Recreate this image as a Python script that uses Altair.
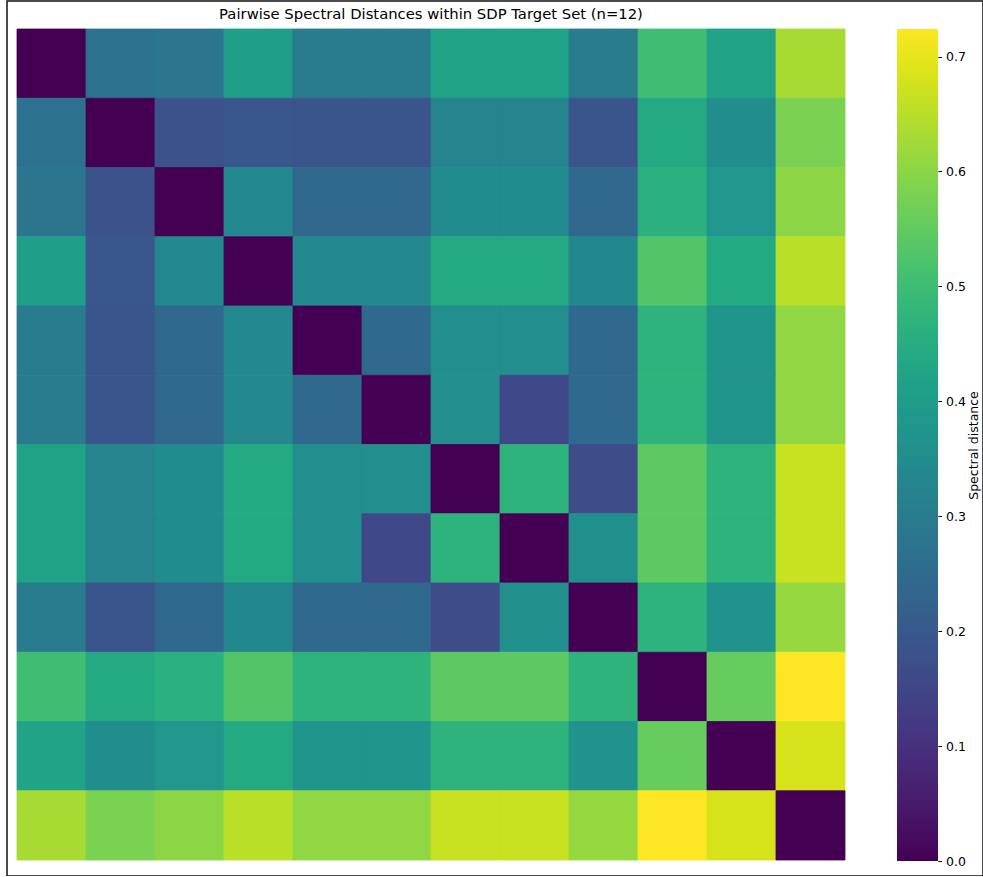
import altair as alt
import pandas as pd

# Pairwise spectral distances between the 12 targets (symmetric, zero diagonal)
row_00 = [0.000, 0.270, 0.285, 0.405, 0.300, 0.300, 0.415, 0.415, 0.300, 0.500, 0.420, 0.630]
row_01 = [0.270, 0.000, 0.180, 0.195, 0.190, 0.190, 0.325, 0.325, 0.190, 0.440, 0.350, 0.580]
row_02 = [0.285, 0.180, 0.000, 0.340, 0.240, 0.240, 0.345, 0.345, 0.240, 0.460, 0.380, 0.600]
row_03 = [0.405, 0.195, 0.340, 0.000, 0.340, 0.340, 0.440, 0.440, 0.335, 0.530, 0.440, 0.650]
row_04 = [0.300, 0.190, 0.240, 0.340, 0.000, 0.245, 0.355, 0.355, 0.245, 0.470, 0.375, 0.605]
row_05 = [0.300, 0.190, 0.240, 0.340, 0.245, 0.000, 0.355, 0.155, 0.245, 0.470, 0.375, 0.605]
row_06 = [0.415, 0.325, 0.345, 0.440, 0.355, 0.355, 0.000, 0.470, 0.165, 0.545, 0.470, 0.665]
row_07 = [0.415, 0.325, 0.345, 0.440, 0.355, 0.155, 0.470, 0.000, 0.360, 0.545, 0.470, 0.665]
row_08 = [0.300, 0.190, 0.240, 0.335, 0.245, 0.245, 0.165, 0.360, 0.000, 0.470, 0.370, 0.610]
row_09 = [0.500, 0.440, 0.460, 0.530, 0.470, 0.470, 0.545, 0.545, 0.470, 0.000, 0.555, 0.724]
row_10 = [0.420, 0.350, 0.380, 0.440, 0.375, 0.375, 0.470, 0.470, 0.370, 0.555, 0.000, 0.680]
row_11 = [0.630, 0.580, 0.600, 0.650, 0.605, 0.605, 0.665, 0.665, 0.610, 0.724, 0.680, 0.000]

rows = [row_00, row_01, row_02, row_03, row_04, row_05,
        row_06, row_07, row_08, row_09, row_10, row_11]

# Colour bar tick labels
bar_ticks = [0.0, 0.1, 0.2, 0.3, 0.4, 0.5, 0.6, 0.7]

heat_df = pd.DataFrame(
    [{"row": i, "col": j, "distance": v}
     for i, r in enumerate(rows) for j, v in enumerate(r)]
)
vmax = float(heat_df["distance"].max())

FONT = "DejaVu Sans"
color_scale = alt.Scale(scheme="viridis", domain=[0, vmax])

# Cells are stroked in their own colour so no hairline seams show between them
heatmap = alt.Chart(heat_df).mark_rect(strokeWidth=0.8).encode(
    x=alt.X("col:O", axis=None,
            scale=alt.Scale(range=[10, 838], paddingInner=0, paddingOuter=0)),
    y=alt.Y("row:O", axis=None,
            scale=alt.Scale(range=[28, 859], paddingInner=0, paddingOuter=0)),
    color=alt.Color("distance:Q", scale=color_scale, legend=None),
    stroke=alt.Stroke("distance:Q", scale=color_scale, legend=None),
)

# Continuous colour bar: thin slices across the colour domain
step = vmax / 400
colorbar = (
    alt.Chart(alt.sequence(0, vmax, step, as_="distance"))
    .transform_calculate(
        top=f"min(datum.distance + {step * 1.6}, {vmax})",
        left="0",
        right="1",
    )
    .mark_rect()
    .encode(
        x=alt.X("left:Q", axis=None,
                scale=alt.Scale(domain=[0, 1], range=[890, 931])),
        x2="right:Q",
        y=alt.Y(
            "distance:Q",
            scale=alt.Scale(domain=[0, vmax], range=[860, 28], nice=False, zero=False),
            axis=alt.Axis(
                orient="right",
                offset=-45,
                values=bar_ticks,
                format=".1f",
                title="Spectral distance",
                titleAngle=270,
                titleFont=FONT,
                titleFontSize=12.5,
                titleFontWeight="normal",
                titleColor="black",
                titlePadding=15,
                labelFont=FONT,
                labelFontSize=12.5,
                labelColor="black",
                labelPadding=4,
                tickSize=3.5,
                tickColor="black",
                domain=False,
                grid=False,
            ),
        ),
        y2="top:Q",
        color=alt.Color("distance:Q", scale=color_scale, legend=None),
    )
)

chart = (
    alt.layer(heatmap, colorbar)
    .resolve_scale(x="independent", y="independent")
    .properties(
        width=976,
        height=875,
        autosize=alt.AutoSizeParams(type="none"),
        padding={"left": 7, "top": 1, "right": 0, "bottom": 0},
        view=alt.ViewBackground(stroke="#111111", strokeWidth=1.5, fill="white"),
        title=alt.TitleParams(
            text="Pairwise Spectral Distances within SDP Target Set (n=12)",
            font=FONT,
            fontSize=14.8,
            fontWeight="normal",
            color="black",
            anchor="middle",
            frame="group",
            dx=-64,
            offset=-21,
        ),
    )
    .configure(background="white")
)

chart.save("out.html", embed_options={"renderer": "svg", "actions": False})
